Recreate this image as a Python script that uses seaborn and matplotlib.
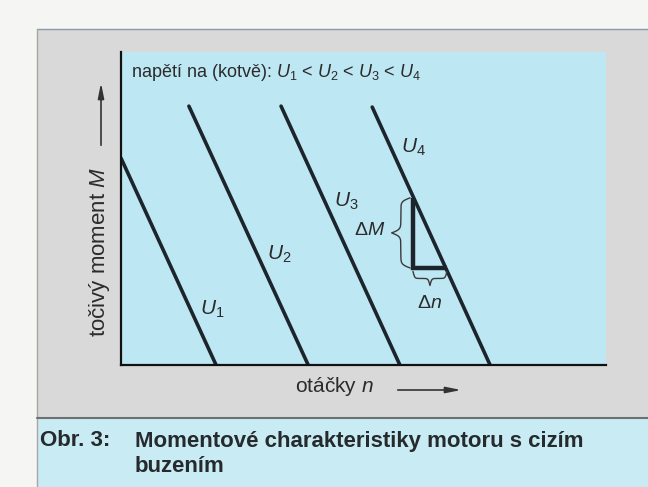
import matplotlib
matplotlib.use("Agg")
import matplotlib.pyplot as plt
import numpy as np
import pandas as pd
import seaborn as sns
from matplotlib.patches import Rectangle
from matplotlib.lines import Line2D

# characteristic lines M(n) for the four armature voltages
voltages = ["U1", "U2", "U3", "U4"]
voltage_labels = ["$U_1$", "$U_2$", "$U_3$", "$U_4$"]
n_top = [0.0, 1.40, 3.30, 5.18]
M_top = [6.61, 8.27, 8.27, 8.24]
n_bottom = [1.96, 3.86, 5.75, 7.61]
M_bottom = [0.0, 0.0, 0.0, 0.0]

# slope triangle on U4
tri_n = [6.02, 6.02, 6.72]
tri_M = [5.34, 3.10, 3.10]

# label anchors (data coords)
label_n = [1.88, 3.26, 4.64, 6.02]
label_M = [1.79, 3.55, 5.24, 6.96]

LINE = "#1c252b"
TEXT = "#2b2b2b"
W, H = 648, 487


def fx(px):
    return px / W


def fy(py):
    return 1 - py / H


def brace(ax, a0, a1, base, depth, vertical=False, beta=40, **kw):
    t = np.linspace(0, 0.5, 100)
    half = 1 / (1 + np.exp(-beta * (t - t[0]))) + 1 / (1 + np.exp(-beta * (t - t[-1])))
    half = (half - half[0]) / (half[-1] - half[0])
    shape = np.concatenate([half, half[-2::-1]])
    s = np.linspace(a0, a1, shape.size)
    off = base - depth * shape
    if vertical:
        ax.plot(off, s, **kw)
    else:
        ax.plot(s, off, **kw)


sns.set_style("white")
plt.rcParams.update({
    "font.family": ["Liberation Sans", "DejaVu Sans"],
    "mathtext.fontset": "custom",
    "mathtext.rm": "Liberation Sans",
    "mathtext.it": "Liberation Sans:italic",
    "mathtext.bf": "Liberation Sans:bold",
})

fig = plt.figure(figsize=(6.48, 4.87), dpi=100)
fig.patch.set_facecolor("#f5f5f3")

# grey panel and caption band
fig.patches.append(Rectangle((fx(37), fy(418)), 1, (418 - 29) / H, transform=fig.transFigure,
                             facecolor="#d9d9d9", edgecolor="none", zorder=-5))
fig.patches.append(Rectangle((fx(37), 0), 1, (487 - 418) / H, transform=fig.transFigure,
                             facecolor="#c9ebf4", edgecolor="none", zorder=-5))
fig.lines.append(Line2D([fx(37), 1], [fy(29), fy(29)], transform=fig.transFigure,
                        color="#8d9aa6", lw=1, zorder=-4))
fig.lines.append(Line2D([fx(37), fx(37)], [0, fy(29)], transform=fig.transFigure,
                        color="#a6a6a6", lw=1, zorder=-4))
fig.lines.append(Line2D([fx(37), 1], [fy(418), fy(418)], transform=fig.transFigure,
                        color="#6e7173", lw=1.5, zorder=-4))

ax = fig.add_axes([fx(121), fy(365), (606 - 121) / W, (365 - 52) / H])
ax.set_facecolor("#bee7f4")
ax.set_zorder(1)

df = pd.DataFrame({
    "U": np.repeat(voltages, 2),
    "n": np.ravel(np.column_stack([n_top, n_bottom])),
    "M": np.ravel(np.column_stack([M_top, M_bottom])),
})
sns.lineplot(data=df, x="n", y="M", hue="U", palette=[LINE] * 4, estimator=None,
             sort=False, legend=False, linewidth=2.6, ax=ax)

tri = pd.DataFrame({"n": tri_n, "M": tri_M})
sns.lineplot(data=tri, x="n", y="M", estimator=None, sort=False, color=LINE,
             linewidth=3.2, solid_joinstyle="miter", solid_capstyle="butt", ax=ax)

ax.set_xlim(0, 10)
ax.set_ylim(0, 10)
ax.set_xticks([])
ax.set_yticks([])
ax.set_xlabel("")
ax.set_ylabel("")
for side in ["top", "right"]:
    ax.spines[side].set_visible(False)
for side in ["left", "bottom"]:
    ax.spines[side].set_color("#111111")
    ax.spines[side].set_linewidth(1.6)

for lab, x, y in zip(voltage_labels, label_n, label_M):
    ax.text(x, y, lab, fontsize=15, color=TEXT, ha="center", va="center")

ax.text(0.21, 9.33, "napětí na (kotvě): $U_1$ < $U_2$ < $U_3$ < $U_4$", fontsize=13,
        color=TEXT, ha="left", va="center")

# braces for ΔM and Δn
brace(ax, tri_M[1], tri_M[0], 5.96, 0.38, vertical=True, color="#3a3a3a", lw=1)
brace(ax, tri_n[1], tri_n[2], 2.99, 0.45, vertical=False, color="#3a3a3a", lw=1)
ax.text(5.13, 4.31, r"$\Delta M$", fontsize=14, color=TEXT, ha="center", va="center")
ax.text(6.37, 1.98, r"$\Delta n$", fontsize=14, color=TEXT, ha="center", va="center")

# axis titles with arrows
fig.text(fx(99), fy(252), "točivý moment $M$", rotation=90, fontsize=16, color=TEXT,
         ha="center", va="center")
fig.add_artist(plt.Annotation("", xy=(fx(101), fy(80)), xytext=(fx(101), fy(148)),
                              xycoords="figure fraction", textcoords="figure fraction",
                              arrowprops=dict(arrowstyle="-|>,head_length=0.9,head_width=0.18",
                                              color="#333333", lw=1.2)))
fig.text(fx(334), fy(387), "otáčky $n$", fontsize=15, color=TEXT, ha="center", va="center")
fig.add_artist(plt.Annotation("", xy=(fx(464), fy(390)), xytext=(fx(395), fy(390)),
                              xycoords="figure fraction", textcoords="figure fraction",
                              arrowprops=dict(arrowstyle="-|>,head_length=0.9,head_width=0.18",
                                              color="#333333", lw=1.2)))

# caption
fig.text(fx(40), fy(441), "Obr. 3:", fontsize=16, fontweight="bold", color="#252a2d",
         ha="left", va="center")
fig.text(fx(135), fy(441), "Momentové charakteristiky motoru s cizím", fontsize=16,
         fontweight="bold", color="#252a2d", ha="left", va="center")
fig.text(fx(135), fy(466), "buzením", fontsize=16, fontweight="bold", color="#252a2d",
         ha="left", va="center")

fig.savefig("out.png", dpi=100)
